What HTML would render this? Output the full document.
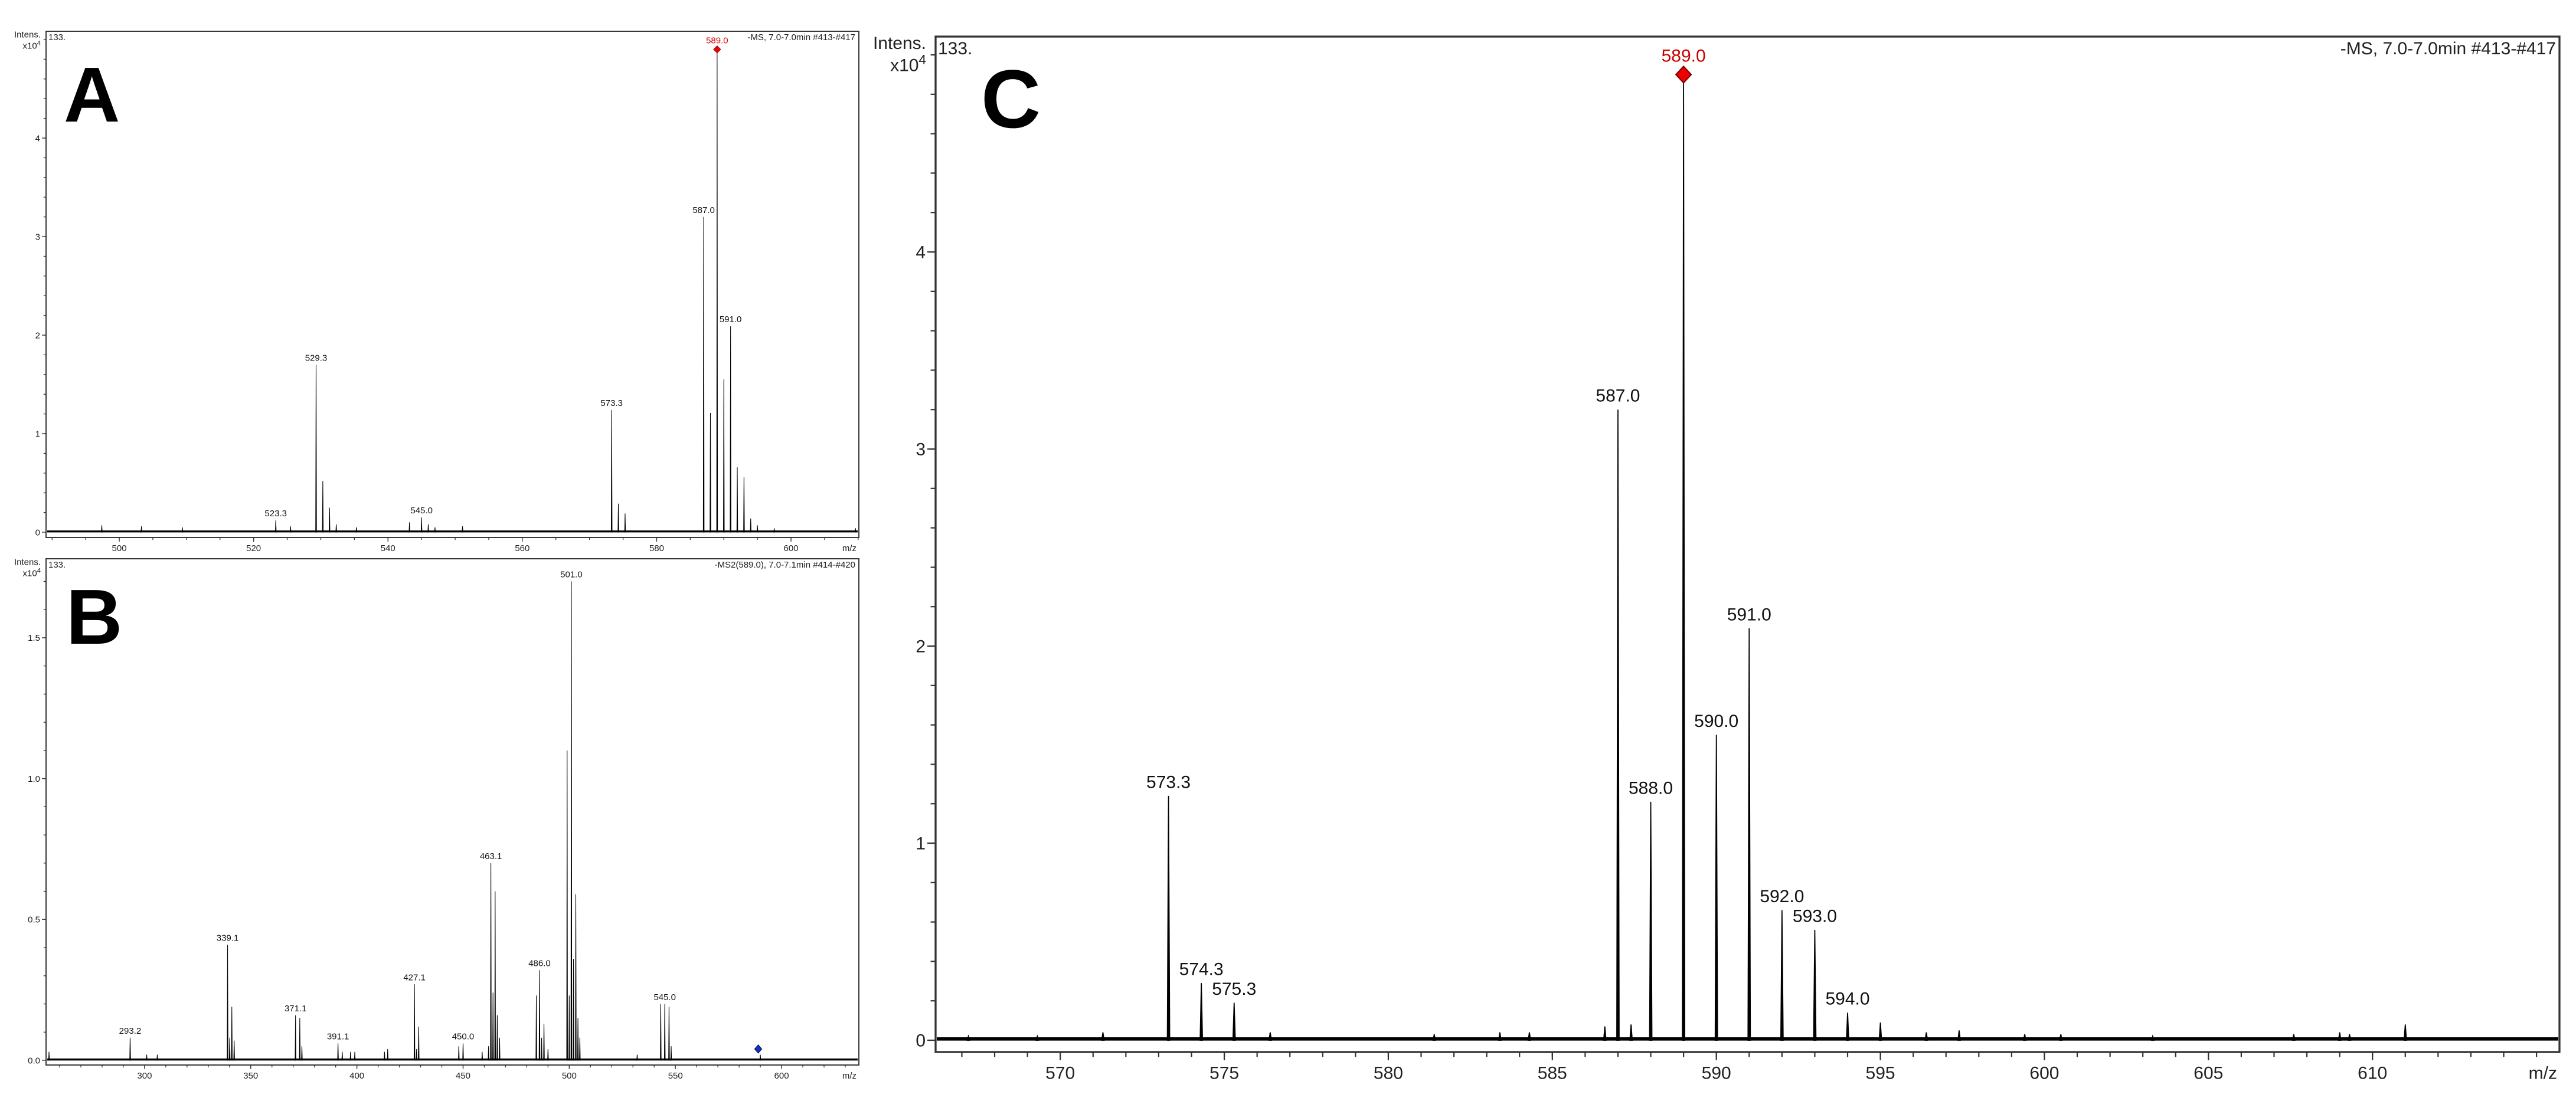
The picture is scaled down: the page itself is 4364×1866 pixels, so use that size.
<!DOCTYPE html>
<html><head><meta charset="utf-8">
<style>
html,body{margin:0;padding:0;background:#fff;}
svg{display:block;font-family:"Liberation Sans Narrow","Liberation Sans",Arial,sans-serif;}
</style></head>
<body>
<svg id="fig" width="4364" height="1866" viewBox="0 0 4364 1866" xmlns="http://www.w3.org/2000/svg">
<rect x="0" y="0" width="4364" height="1866" fill="#fff"/>
</svg>
<script>
// ---------- Panel A data (x10^4) ----------
const aMz   = [497.4,503.3,509.4,523.3,525.5,529.3,530.3,531.3,532.3,535.3,543.2,545.0,546.0,547.0,551.1,573.3,574.3,575.3,587.0,588.0,589.0,590.0,591.0,592.0,593.0,594.0,595.0,597.5,609.6];
const aInt  = [0.07,0.06,0.05,0.12,0.06,1.70,0.52,0.25,0.08,0.05,0.10,0.15,0.08,0.05,0.06,1.24,0.29,0.19,3.20,1.21,4.90,1.55,2.09,0.66,0.56,0.14,0.07,0.04,0.04];
const aLblMz  = [523.3,529.3,545.0,573.3,587.0,591.0];
const aLblInt = [0.12,1.70,0.15,1.24,3.20,2.09];
const aXTicks = [500,520,540,560,580,600];
const aYTicks = [0,1,2,3,4];
// ---------- Panel B data (x10^4) ----------
const bMz  = [255,293.2,301,306,339.1,340.1,341.1,342.2,371.1,373.1,374.1,391.1,393.1,397,399,413,414.5,427.1,428.1,429.1,448.0,450.0,459,462,463.1,464.1,465.1,466.1,467.2,484.5,486.0,487,488.1,490,499.0,500,501.0,502.0,503.1,504.1,505,532,543.1,545.0,547.0,548,590];
const bInt = [0.03,0.08,0.02,0.02,0.41,0.08,0.19,0.07,0.16,0.15,0.05,0.06,0.03,0.03,0.03,0.03,0.04,0.27,0.04,0.12,0.05,0.06,0.03,0.05,0.70,0.24,0.60,0.16,0.08,0.23,0.32,0.08,0.13,0.04,1.10,0.23,1.70,0.36,0.59,0.15,0.08,0.02,0.20,0.20,0.19,0.05,0.02];
const bLblMz  = [293.2,339.1,371.1,391.1,427.1,450.0,463.1,486.0,501.0,545.0];
const bLblInt = [0.08,0.41,0.16,0.06,0.27,0.06,0.70,0.32,1.70,0.20];
const bXTicks = [300,350,400,450,500,550,600];
const bYTicks = [0.0,0.5,1.0,1.5];
// ---------- Panel C data (x10^4) ----------
const cMz  = [567.2,569.3,571.3,573.3,574.3,575.3,576.4,581.4,583.4,584.3,586.6,587.0,587.4,588.0,589.0,590.0,591.0,592.0,593.0,594.0,595.0,596.4,597.4,599.4,600.5,603.3,607.6,609.0,609.3,611.0];
const cInt = [0.02,0.02,0.04,1.24,0.29,0.19,0.04,0.03,0.04,0.04,0.07,3.20,0.08,1.21,4.90,1.55,2.09,0.66,0.56,0.14,0.09,0.04,0.05,0.03,0.03,0.02,0.03,0.04,0.03,0.08];
const cLblMz  = [573.3,574.3,575.3,587.0,588.0,590.0,591.0,592.0,593.0,594.0];
const cLblInt = [1.24,0.29,0.19,3.20,1.21,1.55,2.09,0.66,0.56,0.14];
const cXTicks = [570,575,580,585,590,595,600,605,610];
const cYTicks = [0,1,2,3,4];

const NS = "http://www.w3.org/2000/svg";
const svg = document.getElementById('fig');
function mk(tag, attrs, parent){const e=document.createElementNS(NS,tag);for(const k in attrs)e.setAttribute(k,attrs[k]);(parent||svg).appendChild(e);return e;}
function txt(s, attrs, parent){const e=mk('text',attrs,parent);e.textContent=s;return e;}

function panel(cfg, mz, inten, lblMz, lblInt, xt, yt){
  const g = mk('g',{});
  
  
  const X = v => cfg.left + (v - cfg.xmin) / (cfg.xmax - cfg.xmin) * (cfg.right - cfg.left);
  const Y = v => cfg.y0 - v * cfg.ypu;
  const fr = mk('rect',{x:cfg.left,y:cfg.top,width:cfg.right-cfg.left,height:cfg.bottom-cfg.top,fill:'none',stroke:'#333','stroke-width':cfg.sw*1.5},g);
  
  
  for(const t of yt){
    const l = mk('line',{x1:cfg.left-cfg.tick,x2:cfg.left,y1:Y(t),y2:Y(t),stroke:'#333','stroke-width':cfg.sw},g);
    
    
    const tl = txt(t.toFixed(cfg.ydec),{x:cfg.left-cfg.tick-3,y:Y(t)+cfg.fs*0.35,'font-size':cfg.fs,'text-anchor':'end',fill:'#222'},g);
    
    
  }
  for(let t=cfg.yminor; t*cfg.ypu < cfg.y0-cfg.top; t+=cfg.yminor){
    mk('line',{x1:cfg.left-cfg.tick*0.6,x2:cfg.left,y1:Y(t),y2:Y(t),stroke:'#333','stroke-width':cfg.sw},g);
  }
  for(let v=Math.ceil(cfg.xmin/cfg.xminor)*cfg.xminor; v<=cfg.xmax; v+=cfg.xminor){
    mk('line',{x1:X(v),x2:X(v),y1:cfg.bottom,y2:cfg.bottom+cfg.tick*0.6,stroke:'#333','stroke-width':cfg.sw},g);
  }
  for(const t of xt){
    const l = mk('line',{x1:X(t),x2:X(t),y1:cfg.bottom,y2:cfg.bottom+cfg.tick,stroke:'#333','stroke-width':cfg.sw},g);
    
    
    const tl = txt(String(t),{x:X(t),y:cfg.bottom+cfg.tick+cfg.fs*1.05,'font-size':cfg.fs,'text-anchor':'middle',fill:'#222'},g);
    
    
  }
  const mzl = txt('m/z',{x:cfg.right-4,y:cfg.bottom+cfg.tick+cfg.fs*1.05,'font-size':cfg.fs,'text-anchor':'end',fill:'#222'},g);
  
  
  const bl = mk('line',{x1:cfg.left+2,x2:cfg.right-2,y1:Y(0)-cfg.sw,y2:Y(0)-cfg.sw,stroke:'#000','stroke-width':cfg.sw*2.6},g);
  
  
  for(let i=0;i<mz.length;i++){
    const x=X(mz[i]);
    const p = mk('path',{d:`M${x-cfg.pw},${Y(0)} L${x},${Y(inten[i])} L${x+cfg.pw},${Y(0)} Z`,fill:'#000',stroke:'#000','stroke-width':cfg.sw*0.8},g);
    
    
  }
  for(let i=0;i<lblMz.length;i++){
    const l = txt(lblMz[i].toFixed(1),{x:X(lblMz[i]),y:Y(lblInt[i])-cfg.fs*0.45,'font-size':cfg.fs,'text-anchor':'middle',fill:'#111'},g);
    
    
  }
  const it = txt('Intens.',{x:cfg.left-cfg.tick-2,y:cfg.top+cfg.fs*0.7,'font-size':cfg.fs,'text-anchor':'end',fill:'#222'},g);
  
  
  const ex = txt('',{x:cfg.left-cfg.tick-2,y:cfg.top+cfg.fs*1.95,'font-size':cfg.fs,'text-anchor':'end',fill:'#222'},g);
  ex.innerHTML = 'x10<tspan dy="-'+(cfg.fs*0.4)+'" font-size="'+(cfg.fs*0.75)+'">4</tspan>';
  
  
  const n = txt('133.',{x:cfg.left+4,y:cfg.top+cfg.fs*1.0,'font-size':cfg.fs,fill:'#222'},g);
  
  
  const h = txt(cfg.header,{x:cfg.right-6,y:cfg.top+cfg.fs*1.0,'font-size':cfg.fs,'text-anchor':'end',fill:'#222'},g);
  
  
  const L = txt(cfg.letter,{x:cfg.lx,y:cfg.ly,'font-size':cfg.lfs,'font-weight':'bold',fill:'#000','font-family':'"Liberation Sans Narrow","Liberation Sans",sans-serif'},g);
  
  
  return {X,Y,g};
}

const pa = panel({name:'panel-a',left:78,right:1455,top:53,bottom:911,xmin:489.1,xmax:610.1,y0:902,ypu:167,ydec:0,yminor:0.2,xminor:5,tick:7,fs:15,sw:1.3,pw:0.7,header:'-MS, 7.0-7.0min #413-#417',letter:'A',lx:108,ly:206,lfs:132}, aMz,aInt,aLblMz,aLblInt,aXTicks,aYTicks);
{
  const x=pa.X(589.0), y=pa.Y(4.9);
  const d=mk('path',{d:`M${x},${y-6} L${x+6},${y} L${x},${y+6} L${x-6},${y} Z`,fill:'#e00',stroke:'#900','stroke-width':1},pa.g);
  
  
  const t=txt('589.0',{x:x,y:y-10,'font-size':15,'text-anchor':'middle',fill:'#c00'},pa.g);
  
  
}
const pb = panel({name:'panel-b',left:78,right:1455,top:947,bottom:1805,xmin:253.6,xmax:636.4,y0:1797,ypu:477.4,ydec:1,yminor:0.1,xminor:10,tick:7,fs:15,sw:1.3,pw:0.7,header:'-MS2(589.0), 7.0-7.1min #414-#420',letter:'B',lx:112,ly:1091,lfs:132}, bMz,bInt,bLblMz,bLblInt,bXTicks,bYTicks);
{
  const x=pb.X(589.0), y=pb.Y(0.04);
  const d=mk('path',{d:`M${x},${y-7} L${x+6},${y} L${x},${y+7} L${x-6},${y} Z`,fill:'#1030d0',stroke:'#002','stroke-width':1},pb.g);
  
  
}
const pc = panel({name:'panel-c',left:1585,right:4336,top:62,bottom:1783,xmin:566.2,xmax:615.7,y0:1763,ypu:334,ydec:0,yminor:0.2,xminor:1,tick:14,fs:30,sw:2.2,pw:2,header:'-MS, 7.0-7.0min #413-#417',letter:'C',lx:1662,ly:216,lfs:140}, cMz,cInt,cLblMz,cLblInt,cXTicks,cYTicks);
{
  const x=pc.X(589.0), y=pc.Y(4.9);
  const d=mk('path',{d:`M${x},${y-14} L${x+13},${y} L${x},${y+14} L${x-13},${y} Z`,fill:'#e00',stroke:'#700','stroke-width':2},pc.g);
  
  
  const t=txt('589.0',{x:x,y:y-22,'font-size':30,'text-anchor':'middle',fill:'#c00'},pc.g);
  
  
}
</script>
</body></html>
